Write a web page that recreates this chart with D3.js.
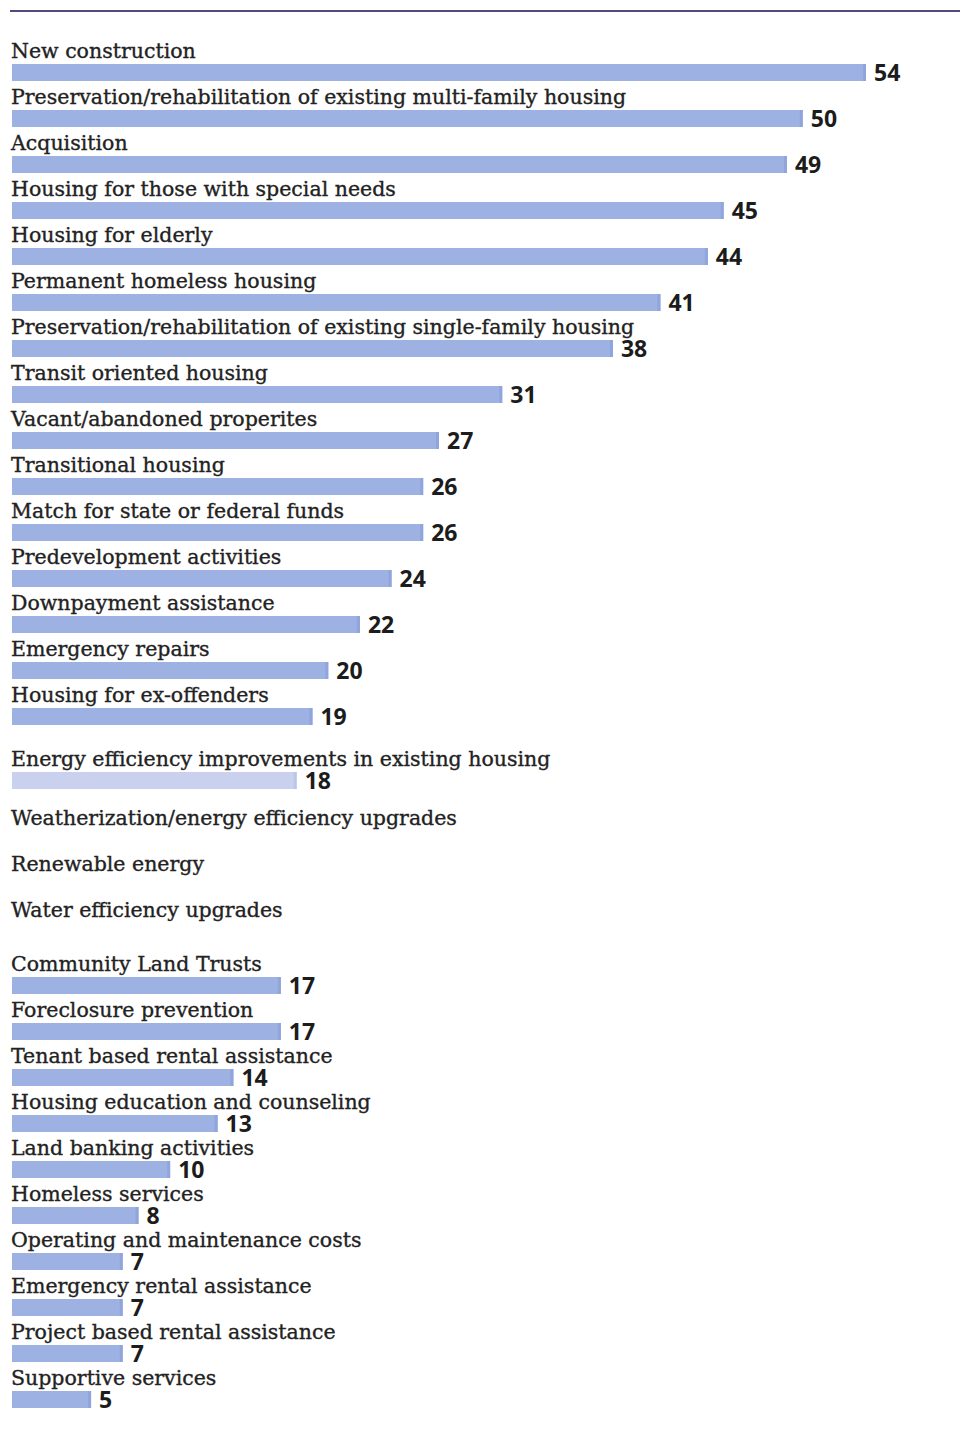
<!DOCTYPE html>
<html>
<head>
<meta charset="utf-8">
<script src="https://cdn.jsdelivr.net/npm/d3@7"></script>
<style>
	body { margin: 0; background: #fff; }
	.cat-label { font-family: "DejaVu Serif", serif; font-size: 20.5px; fill: #222; stroke: #222; stroke-width: 0.35px; }
	.val-label { font-family: "Open Sans", sans-serif; font-weight: 700; font-size: 23px; fill: #1c1c1c; }
</style>
</head>
<body>
<div id="chart"></div>
<script>
	// categories, top to bottom
	var categories = [
		"New construction",
		"Preservation/rehabilitation of existing multi-family housing",
		"Acquisition",
		"Housing for those with special needs",
		"Housing for elderly",
		"Permanent homeless housing",
		"Preservation/rehabilitation of existing single-family housing",
		"Transit oriented housing",
		"Vacant/abandoned properites",
		"Transitional housing",
		"Match for state or federal funds",
		"Predevelopment activities",
		"Downpayment assistance",
		"Emergency repairs",
		"Housing for ex-offenders",
		"Energy efficiency improvements in existing housing",
		"Weatherization/energy efficiency upgrades",
		"Renewable energy",
		"Water efficiency upgrades",
		"Community Land Trusts",
		"Foreclosure prevention",
		"Tenant based rental assistance",
		"Housing education and counseling",
		"Land banking activities",
		"Homeless services",
		"Operating and maintenance costs",
		"Emergency rental assistance",
		"Project based rental assistance",
		"Supportive services"
	];

	// number of funds; null = no bar shown
	var values = [54, 50, 49, 45, 44, 41, 38, 31, 27, 26, 26, 24, 22, 20, 19,
		18, null, null, null,
		17, 17, 14, 13, 10, 8, 7, 7, 7, 5];

	// rows drawn in the lighter tone
	var lightRows = ["Energy efficiency improvements in existing housing"];

	var svg_width = 961,
		svg_height = 1437;

	var xScale = d3.scaleLinear().domain([0, 54]).range([12, 866]);

	// row position: regular step with extra gaps between groups
	var rowStep = 46;
	function rowTop(i) {
		var extra = 0;
		if (i >= 15) extra += 18;
		if (i >= 16) extra += 13;
		if (i >= 19) extra += 8;
		return 64 + rowStep * i + extra;
	}
	var barHeight = 17;

	var svg = d3.select("#chart").append("svg")
		.attr("width", svg_width)
		.attr("height", svg_height);

	svg.append("rect")
		.attr("width", svg_width)
		.attr("height", svg_height)
		.attr("fill", "#fff");

	// top rule
	svg.append("line")
		.attr("x1", 10).attr("x2", 960)
		.attr("y1", 11).attr("y2", 11)
		.attr("stroke", "#4f4c7c")
		.attr("stroke-width", 2);

	var rows = svg.selectAll(".row")
		.data(categories)
		.enter()
		.append("g")
		.attr("class", "row")
		.attr("transform", function(d, i) { return "translate(0," + rowTop(i) + ")"; });

	rows.append("text")
		.attr("class", "cat-label")
		.attr("x", 11)
		.attr("y", -6)
		.text(function(d) { return d; });

	var withBar = rows.filter(function(d, i) { return values[i] != null; });

	withBar.append("rect")
		.attr("x", xScale(0))
		.attr("y", 0)
		.attr("height", barHeight)
		.attr("width", function(d) { return xScale(values[categories.indexOf(d)]) - xScale(0); })
		.attr("fill", function(d) { return lightRows.indexOf(d) >= 0 ? "#c9d1ee" : "#9db2e3"; });

	// darker end cap on each bar
	withBar.append("rect")
		.attr("x", function(d) { return xScale(values[categories.indexOf(d)]) - 3; })
		.attr("y", 0)
		.attr("width", 3)
		.attr("height", barHeight)
		.attr("fill", function(d) { return lightRows.indexOf(d) >= 0 ? "#bcc6e8" : "#8fa5dc"; });

	withBar.append("text")
		.attr("class", "val-label")
		.attr("x", function(d) { return xScale(values[categories.indexOf(d)]) + 8; })
		.attr("y", barHeight / 2)
		.attr("dy", "0.36em")
		.text(function(d) { return values[categories.indexOf(d)]; });
</script>
</body>
</html>
